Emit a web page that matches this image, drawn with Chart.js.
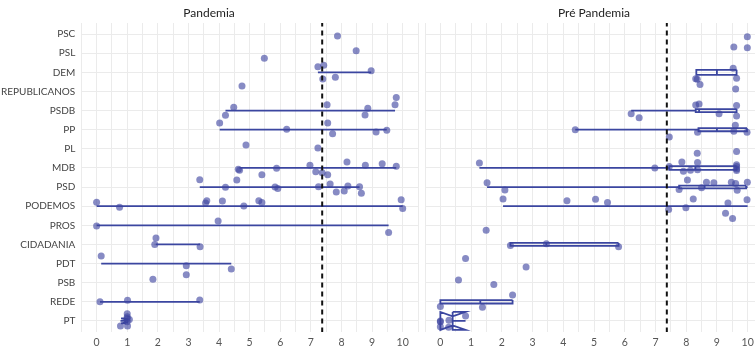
<!DOCTYPE html>
<html>
<head>
<meta charset="utf-8">
<script src="https://cdn.jsdelivr.net/npm/chart.js@4.4.0/dist/chart.umd.min.js"></script>
<style>
  html, body { margin: 0; padding: 0; background: #fff; overflow: hidden; width: 755px; height: 348px; }
  #pand { position: absolute; left: 0; top: 0; }
  #pre { position: absolute; left: 425px; top: 0; }
</style>
</head>
<body>
<canvas id="pand" width="420" height="348"></canvas>
<canvas id="pre" width="338" height="348"></canvas>
<script>
// CATEGORIES (bottom -> top)
const partidos = ['PT', 'REDE', 'PSB', 'PDT', 'CIDADANIA', 'PROS', 'PODEMOS', 'PSD', 'MDB', 'PL', 'PP', 'PSDB', 'REPUBLICANOS', 'DEM', 'PSL', 'PSC'];
const xTicks = [0, 1, 2, 3, 4, 5, 6, 7, 8, 9, 10];
const mediaGeral = 7.37;

// PANDEMIA: points (party, score, vertical jitter)
const pandPartido = ['PSC', 'PSL', 'PSL', 'DEM', 'DEM', 'DEM', 'DEM', 'DEM', 'REPUBLICANOS', 'REPUBLICANOS',
  'PSDB', 'PSDB', 'PSDB', 'PSDB', 'PSDB', 'PSDB', 'PP', 'PP', 'PP', 'PP', 'PP', 'PP', 'PL', 'PL',
  'MDB', 'MDB', 'MDB', 'MDB', 'MDB', 'MDB', 'MDB', 'MDB', 'MDB', 'MDB', 'MDB', 'MDB',
  'PSD', 'PSD', 'PSD', 'PSD', 'PSD', 'PSD', 'PSD', 'PSD', 'PSD', 'PSD', 'PSD', 'PSD',
  'PODEMOS', 'PODEMOS', 'PODEMOS', 'PODEMOS', 'PODEMOS', 'PODEMOS', 'PODEMOS', 'PODEMOS', 'PODEMOS', 'PODEMOS',
  'PROS', 'PROS', 'PROS', 'CIDADANIA', 'CIDADANIA', 'CIDADANIA', 'PDT', 'PDT', 'PDT', 'PSB', 'PSB',
  'REDE', 'REDE', 'REDE', 'PT', 'PT', 'PT', 'PT', 'PT', 'PT', 'PT'];
const pandNota = [7.87, 8.48, 5.48, 7.23, 7.42, 8.97, 7.39, 7.80, 4.75, 9.79,
  9.75, 7.53, 4.48, 8.86, 4.21, 8.77, 4.02, 7.55, 6.21, 9.48, 9.13, 7.71, 4.88, 7.23,
  8.18, 6.97, 8.78, 9.33, 9.79, 5.88, 4.67, 4.63, 5.40, 7.16, 7.37, 7.55,
  3.37, 4.58, 4.21, 5.83, 5.92, 7.25, 7.63, 8.21, 8.59, 7.83, 8.09, 8.65,
  0, 0.75, 3.60, 3.56, 4.11, 4.81, 5.30, 5.40, 9.95, 10,
  0, 3.97, 9.54, 1.94, 1.90, 3.38, 0.15, 2.93, 4.40, 2.93, 1.84,
  0.11, 1.01, 3.37, 1.0, 1.0, 1.07, 1.0, 0.78, 1.01, 1.0];
const pandJitter = [-0.10, 0.13, -0.27, 0.29, 0.37, 0.08, -0.35, -0.26, 0.28, -0.31,
  0.30, 0.30, 0.18, 0.12, -0.25, -0.23, 0.35, 0.35, 0.02, -0.03, -0.12, -0.21, 0.20, 0.04,
  0.31, 0.14, 0.14, 0.22, 0.09, -0.02, -0.12, -0.07, -0.35, -0.20, -0.25, -0.36,
  0.38, 0.37, -0.01, 0, -0.08, 0.02, 0.16, 0.05, 0.02, -0.26, -0.20, -0.33,
  0.20, -0.06, 0.29, 0.17, 0.27, 0.01, 0.29, 0.19, 0.33, -0.12,
  -0.03, 0.23, -0.37, 0.34, 0, -0.12, 0.40, -0.11, -0.28, 0.41, 0.18,
  0, 0.08, 0.10, 0.37, 0.22, 0.08, -0.05, -0.26, -0.26, 0.12];

// PANDEMIA: boxplots
const pandBoxPartido = ['DEM', 'PSDB', 'PP', 'MDB', 'PSD', 'PODEMOS', 'PROS', 'CIDADANIA', 'PDT', 'REDE', 'PT'];
const pandMin = [7.23, 4.21, 4.02, 4.67, 3.37, 0, 0, 1.90, 0.15, 0.11, 0.78];
const pandQ1 = [7.39, 4.48, 6.50, 5.88, 4.90, 3.57, 1.98, 1.92, 1.54, 0.56, 0.93];
const pandMed = [7.42, 8.15, 7.63, 7.37, 7.44, 4.46, 3.97, 1.94, 2.93, 1.01, 1.0];
const pandQ3 = [7.80, 9.75, 9.20, 8.78, 8.15, 5.38, 6.75, 2.66, 3.67, 2.19, 1.0];
const pandMax = [8.97, 9.77, 9.48, 9.79, 8.59, 10, 9.54, 3.38, 4.40, 3.37, 1.0];
const pandLargura = [0, 0, 0, 0, 0, 0, 0, 0, 0, 0, 0.13];
const pandNotchLo = [null, null, null, null, null, null, null, null, null, null, 0.80];
const pandNotchHi = [null, null, null, null, null, null, null, null, null, null, 1.0];

// PRE PANDEMIA: points
const prePartido = ['PSC', 'PSL', 'PSL', 'DEM', 'DEM', 'DEM', 'DEM', 'REPUBLICANOS', 'REPUBLICANOS',
  'PSDB', 'PSDB', 'PSDB', 'PSDB', 'PSDB', 'PSDB', 'PSDB', 'PP', 'PP', 'PP', 'PP', 'PP', 'PP', 'PL', 'PL',
  'MDB', 'MDB', 'MDB', 'MDB', 'MDB', 'MDB', 'MDB', 'MDB', 'MDB', 'MDB', 'MDB', 'MDB',
  'PSD', 'PSD', 'PSD', 'PSD', 'PSD', 'PSD', 'PSD', 'PSD', 'PSD', 'PSD', 'PSD',
  'PODEMOS', 'PODEMOS', 'PODEMOS', 'PODEMOS', 'PODEMOS', 'PODEMOS', 'PODEMOS', 'PODEMOS', 'PODEMOS', 'PODEMOS',
  'PROS', 'PROS', 'CIDADANIA', 'CIDADANIA', 'CIDADANIA', 'PDT', 'PDT', 'PSB', 'PSB',
  'REDE', 'REDE', 'REDE', 'PT', 'PT', 'PT', 'PT', 'PT', 'PT'];
const preNota = [9.99, 9.55, 9.99, 9.53, 8.31, 8.36, 9.64, 8.45, 9.61,
  8.31, 8.42, 9.64, 6.21, 6.47, 9.07, 9.64, 9.60, 4.39, 8.37, 9.55, 9.98, 7.45, 8.36, 9.64,
  1.27, 6.98, 7.45, 7.86, 8.37, 7.91, 8.14, 8.37, 9.64, 9.64, 9.64, 9.64,
  8.04, 1.52, 2.10, 8.66, 8.90, 9.47, 9.61, 9.99, 7.77, 8.50, 9.66,
  2.04, 4.12, 5.05, 5.44, 8.23, 9.98, 9.36, 7.43, 7.99, 9.28,
  9.51, 1.49, 2.28, 3.45, 5.80, 0.82, 2.79, 0.59, 1.74,
  2.35, 0, 1.37, 0, 0, 0.28, 0.82, 0.27, 0];
const preJitter = [-0.14, 0.32, 0.29, 0.21, -0.33, -0.36, -0.31, 0.37, 0.13,
  0.29, 0.34, 0.27, -0.16, -0.37, -0.16, -0.28, 0.23, 0, -0.14, -0.08, -0.14, -0.38, -0.23, -0.14,
  0.26, 0, 0.07, 0.31, 0.28, -0.17, -0.12, -0.09, 0.17, 0.07, -0.05, -0.14,
  0.37, 0.23, -0.15, 0.25, 0.23, 0.25, 0.18, 0.25, -0.13, -0.03, -0.17,
  0.38, 0.29, 0.36, 0.19, 0.38, 0.34, 0.17, -0.18, -0.08, -0.37,
  0.35, -0.26, -0.06, 0.04, -0.12, 0.26, -0.18, 0.14, -0.10,
  0.36, -0.25, -0.28, 0, -0.05, 0.03, 0.26, -0.33, -0.30];

// PRE PANDEMIA: boxplots
const preBoxPartido = ['DEM', 'PSDB', 'PP', 'MDB', 'PSD', 'PODEMOS', 'CIDADANIA', 'REDE', 'PT'];
const preMin = [8.31, 6.21, 4.39, 1.27, 1.52, 2.04, 2.28, 0, 0];
const preQ1 = [8.33, 8.31, 8.40, 7.45, 7.77, 7.43, 2.28, 0, 0];
const preMed = [9.0, 8.42, 9.0, 8.30, 8.60, 8.10, 3.45, 1.30, 0.40];
const preQ3 = [9.64, 9.64, 9.98, 9.64, 9.95, 9.30, 5.80, 2.35, 0.40];
const preMax = [9.64, 9.64, 9.98, 9.64, 10, 10, 5.80, 2.35, 0.82];
const preLargura = [0.13, 0.08, 0.08, 0.10, 0.07, 0, 0.08, 0.09, 0.47];
const preNotchLo = [null, null, null, null, null, null, null, null, 0];
const preNotchHi = [null, null, null, null, null, null, null, null, 0.82];

const COR_PONTO = 'rgba(62, 68, 160, 0.62)';
const COR_BOX = '#3b46a0';
const FONTE = 'Lato, "Noto Sans", sans-serif';

function pontos(partido, nota, jitter) {
  return nota.map((v, i) => ({ x: v, y: partidos.indexOf(partido[i]) + jitter[i] }));
}

// one line dataset per boxplot: whiskers, box outline (notched if needed), median
function caixas(partido, mn, q1, med, q3, mx, larg, nLo, nHi) {
  return partido.map((p, i) => {
    const c = partidos.indexOf(p);
    const h = larg[i];
    const lo = nLo[i] === null ? med[i] : nLo[i];
    const hi = nHi[i] === null ? med[i] : nHi[i];
    const ind = nLo[i] === null ? 1 : 0.5;
    const gap = { x: null, y: null };
    const data = [
      { x: mn[i], y: c }, { x: q1[i], y: c }, gap,
      { x: q3[i], y: c }, { x: mx[i], y: c }, gap,
      { x: q3[i], y: c + h }, { x: hi, y: c + h }, { x: med[i], y: c + h * ind }, { x: lo, y: c + h },
      { x: q1[i], y: c + h }, { x: q1[i], y: c - h }, { x: lo, y: c - h }, { x: med[i], y: c - h * ind },
      { x: hi, y: c - h }, { x: q3[i], y: c - h }, { x: q3[i], y: c + h }, gap,
      { x: med[i], y: c + h * ind }, { x: med[i], y: c - h * ind }
    ];
    return {
      type: 'scatter', data, showLine: true, spanGaps: false, pointRadius: 0,
      borderColor: COR_BOX, borderWidth: 1.8, fill: false, order: 2
    };
  });
}

function montar(id, titulo, partido, nota, jitter, boxes, mostrarY) {
  const gradeX = [-0.5];
  xTicks.forEach(v => { gradeX.push(v); gradeX.push(v + 0.5); });
  return new Chart(document.getElementById(id), {
    type: 'scatter',
    data: {
      datasets: [
        {
          data: [{ x: mediaGeral, y: -0.6 }, { x: mediaGeral, y: 15.6 }],
          showLine: true, pointRadius: 0, borderColor: '#111', borderWidth: 2,
          borderDash: [5, 4], order: 0
        },
        {
          data: pontos(partido, nota, jitter),
          pointRadius: 3.5, backgroundColor: COR_PONTO, borderWidth: 0, order: 1
        },
        ...boxes
      ]
    },
    options: {
      responsive: false,
      animation: false,
      events: [],
      layout: { autoPadding: false, padding: { right: mostrarY ? 2 : 0, left: 0, top: 0, bottom: 0 } },
      plugins: {
        legend: { display: false },
        tooltip: { enabled: false },
        title: {
          display: true, text: titulo, color: '#222',
          font: { family: FONTE, size: 12, weight: 'normal' },
          padding: { top: 6, bottom: 2.6 }
        }
      },
      scales: {
        x: {
          type: 'linear', min: -0.5, max: 10.5,
          afterBuildTicks: s => { s.ticks = gradeX.map(v => ({ value: v })); },
          afterFit: s => { s.height = 16; s.paddingLeft = 0; s.paddingRight = 0; },
          grid: { color: '#ebebeb', lineWidth: 1, drawTicks: false },
          border: { display: false },
          ticks: {
            padding: 4, color: '#555', font: { family: FONTE, size: 10.5 },
            autoSkip: false, maxRotation: 0,
            callback: v => (Number.isInteger(v) ? String(v) : '')
          }
        },
        y: {
          type: 'linear', min: -0.58, max: 15.58,
          afterBuildTicks: s => { s.ticks = partidos.map((p, i) => ({ value: i })); },
          afterFit: s => { s.width = mostrarY ? 81.3 : 0; },
          grid: { color: '#ebebeb', lineWidth: 1, drawTicks: false },
          border: { display: false },
          ticks: {
            display: mostrarY, padding: 6, color: '#444',
            font: { family: FONTE, size: 10 }, autoSkip: false,
            callback: v => partidos[v]
          }
        }
      }
    }
  });
}

montar('pand', 'Pandemia', pandPartido, pandNota, pandJitter,
  caixas(pandBoxPartido, pandMin, pandQ1, pandMed, pandQ3, pandMax, pandLargura, pandNotchLo, pandNotchHi), true);
montar('pre', 'Pré Pandemia', prePartido, preNota, preJitter,
  caixas(preBoxPartido, preMin, preQ1, preMed, preQ3, preMax, preLargura, preNotchLo, preNotchHi), false);
</script>
</body>
</html>
